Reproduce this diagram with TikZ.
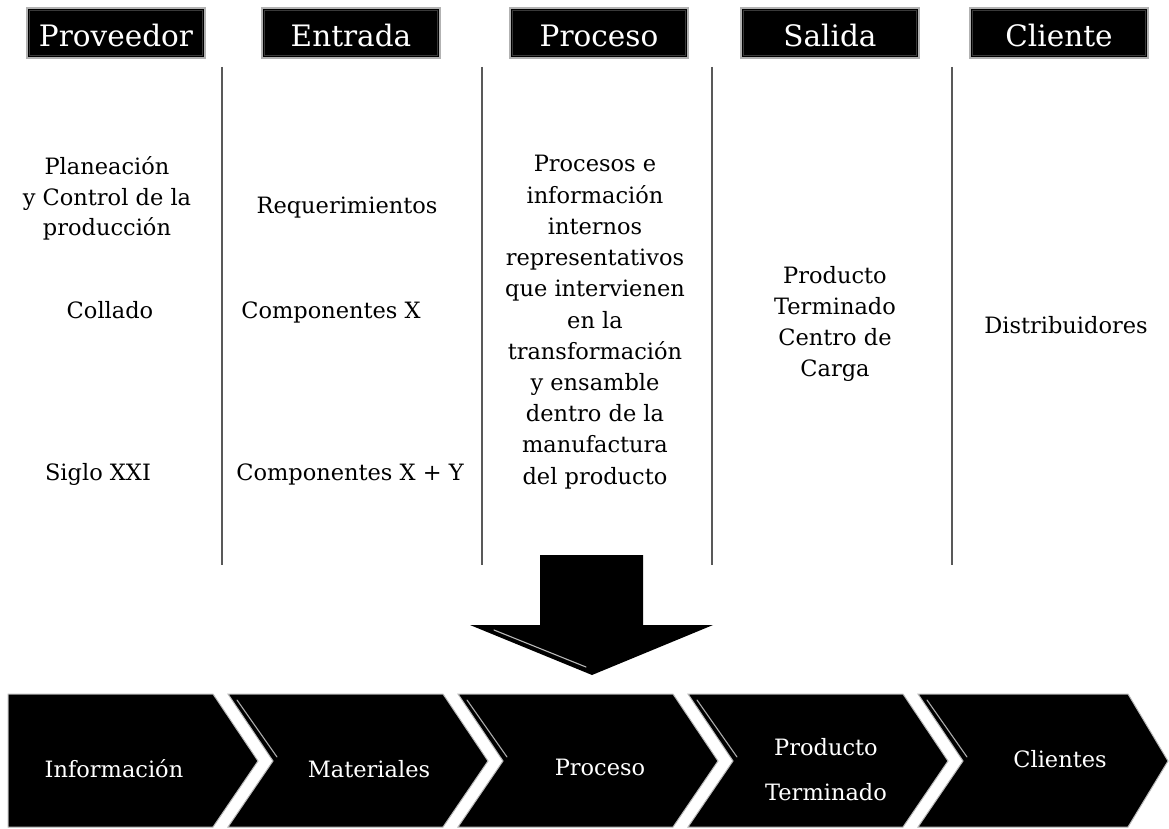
\documentclass[tikz,border=0pt]{standalone}
\usepackage{fontspec}
\setmainfont{DejaVu Serif}
\begin{document}
\begin{tikzpicture}[x=1pt,y=-1pt,
  header/.style={fill=black, draw=gray!60, line width=1.4pt,
    minimum width=178pt, minimum height=50pt, inner sep=0pt,
    text height=28pt, text depth=0pt, text=white,
    font=\fontsize{29.5}{32}\selectfont},
  bevel/.style={draw=gray!45!black, line width=0.8pt},
  divider/.style={draw=black!65, line width=1.2pt},
  body/.style={anchor=base, inner sep=0pt, text=black,
    font=\fontsize{22.5}{30}\selectfont},
  chev/.style={fill=black, draw=gray!55, line width=1pt, line join=miter},
  shine/.style={draw=gray!65, line width=1.1pt, line cap=round},
  chevtext/.style={anchor=base, inner sep=0pt, text=white,
    font=\fontsize{22.5}{30}\selectfont},
]
\useasboundingbox (0,0) rectangle (1169,829);

% column headers with a soft inner bevel
\node[header] (hprov) at (116,33) {Proveedor};
\node[header] (hent)  at (351,33) {Entrada};
\node[header] (hproc) at (599,33) {Proceso};
\node[header] (hsal)  at (830,33) {Salida};
\node[header] (hcli)  at (1059,33) {Cliente};
\foreach \h in {hprov,hent,hproc,hsal,hcli}
  \draw[bevel] ([xshift=3pt,yshift=-3pt]\h.north west) rectangle
               ([xshift=-3pt,yshift=3pt]\h.south east);

% column dividers
\foreach \x [count=\i] in {222,482,712,952} {
  \coordinate (dt\i) at (\x,67);
  \coordinate (db\i) at (\x,565);
  \draw[divider] (dt\i) -- (db\i);
}

% Proveedor column
\foreach \t [count=\i] in {Planeación, y Control de la, producción}
  \node[body] (prov\i) at (107,{175+30*(\i-1)}) {\t};
\node[body] (collado) at (110,318) {Collado};
\node[body] (siglo) at (98,480) {Siglo XXI};

% Entrada column
\node[body] (req) at (347,213) {Requerimientos};
\node[body] (compx) at (331,318) {Componentes X};
\node[body] (compxy) at (350,480) {Componentes X + Y};

% Proceso column
\foreach \t [count=\i] in {Procesos e, información, internos, representativos,
  que intervienen, en la, transformación, y ensamble, dentro de la,
  manufactura, del producto}
  \node[body] (proc\i) at (595,{172+31.2*(\i-1)}) {\t};

% Salida column
\foreach \t [count=\i] in {Producto, Terminado, Centro de, Carga}
  \node[body] (sal\i) at (835,{283+31*(\i-1)}) {\t};

% Cliente column
\node[body] (dist) at (1066,333) {Distribuidores};

% big downward arrow with a highlight inside its left edge
\fill[black] (540,555) -- (643,555) -- (643,625) -- (713,625) -- (592,675)
  -- (470,625) -- (540,625) -- cycle;
\draw[shine, gray!55] (494,630) -- (586,667);

% chevron process flow
\draw[chev] (8,694) -- (213,694) -- (258,761) -- (213,827) -- (8,827) -- cycle;
\foreach \l/\r/\p in {228/443/488, 458/673/718, 688/903/948, 918/1128/1168} {
  \draw[chev] (\l,694) -- (\r,694) -- (\p,761) -- (\r,827) -- (\l,827)
    -- ({\l+45},761) -- cycle;
  \draw[shine] ({\l+9},700) -- ({\l+49},757);
}

\node[chevtext] (cinfo) at (114,777) {Información};
\node[chevtext] (cmat)  at (369,777) {Materiales};
\node[chevtext] (cproc) at (600,775) {Proceso};
\node[chevtext] (cprod) at (826,755) {Producto};
\node[chevtext] (cterm) at (826,800) {Terminado};
\node[chevtext] (ccli)  at (1060,767) {Clientes};
\end{tikzpicture}
\end{document}
